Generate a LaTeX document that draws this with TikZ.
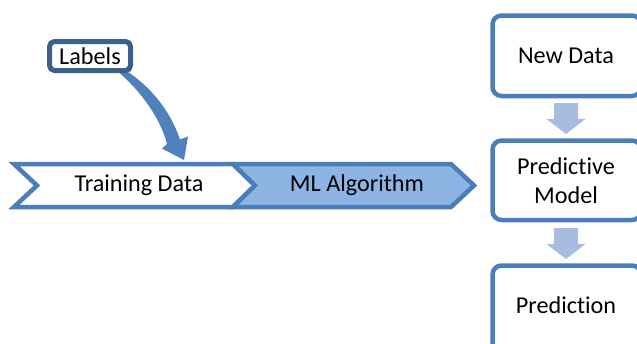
\documentclass[tikz,border=0pt]{standalone}
\usepackage{fontspec}
\setmainfont{Carlito}[Ligatures=NoCommon]
\usetikzlibrary{calc}
\definecolor{edgeblue}{RGB}{74,126,187}
\definecolor{labelblue}{RGB}{60,95,139}
\definecolor{bentblue}{RGB}{79,129,189}
\definecolor{mlfill}{RGB}{142,180,227}
\definecolor{stepfill}{RGB}{167,188,222}
\begin{document}
\begin{tikzpicture}[x=1pt,y=-1pt,
  font=\fontsize{24.2}{29}\selectfont,
  chevron/.style={draw=edgeblue, line width=4.5pt, line join=miter},
  txt/.style={inner sep=0pt, align=center},
  flowbox/.style={draw=edgeblue, line width=4.5pt, rounded corners=9pt, fill=white},
  labelbox/.style={draw=labelblue, line width=5pt, rounded corners=5pt, fill=white,
    minimum width=81pt, minimum height=29pt, inner sep=0pt},
  downarrow/.style={fill=stepfill}]
\clip (0,0) rectangle (637,343);

% process chevrons
\draw[chevron, fill=white] (14,164) -- (233,164) -- (255,185.5) -- (233,207)
  -- (14,207) -- (37,185.5) -- cycle;
\draw[chevron, fill=mlfill] (233,164) -- (451,164) -- (474,185.5) -- (451,207)
  -- (233,207) -- (255,185.5) -- cycle;
\node[txt] (train) at (139,185.5) {Training Data};
\node[txt] (ml) at (357,185.5) {ML Algorithm};

% bent arrow from the labels box down onto the training chevron
\coordinate (tailL) at (116,70);
\coordinate (tailR) at (125,70);
\coordinate (neckL) at (167,144);
\coordinate (neckR) at (180,139.5);
\coordinate (headL) at (162,148.5);
\coordinate (headR) at (188,136.5);
\coordinate (tip) at (184,160);
\fill[bentblue] (tailL) .. controls (140,90) and (160,117) .. (neckL)
  -- (headL) -- (tip) -- (headR) -- (neckR)
  .. controls (170,110) and (150,86) .. (tailR) -- cycle;

\node[labelbox] (labels) at (90,56) {Labels};

% prediction flow on the right
\draw[flowbox] (492.5,15.5) rectangle (641,96);
\draw[flowbox] (492.5,140.5) rectangle (641,220);
\draw[flowbox] (492.5,265.5) rectangle (641,352);
\node[txt] (newdata) at (566,56) {New Data};
\node[txt] (model) at (566,181) {Predictive\\Model};
\node[txt] (pred) at (566,305) {Prediction};

\foreach \dy in {0,125}{
  \fill[downarrow] (554,103+\dy) -- (578,103+\dy) -- (578,119+\dy) -- (585.5,119+\dy)
    -- (566,134+\dy) -- (546.5,119+\dy) -- (554,119+\dy) -- cycle;
}
\end{tikzpicture}
\end{document}
